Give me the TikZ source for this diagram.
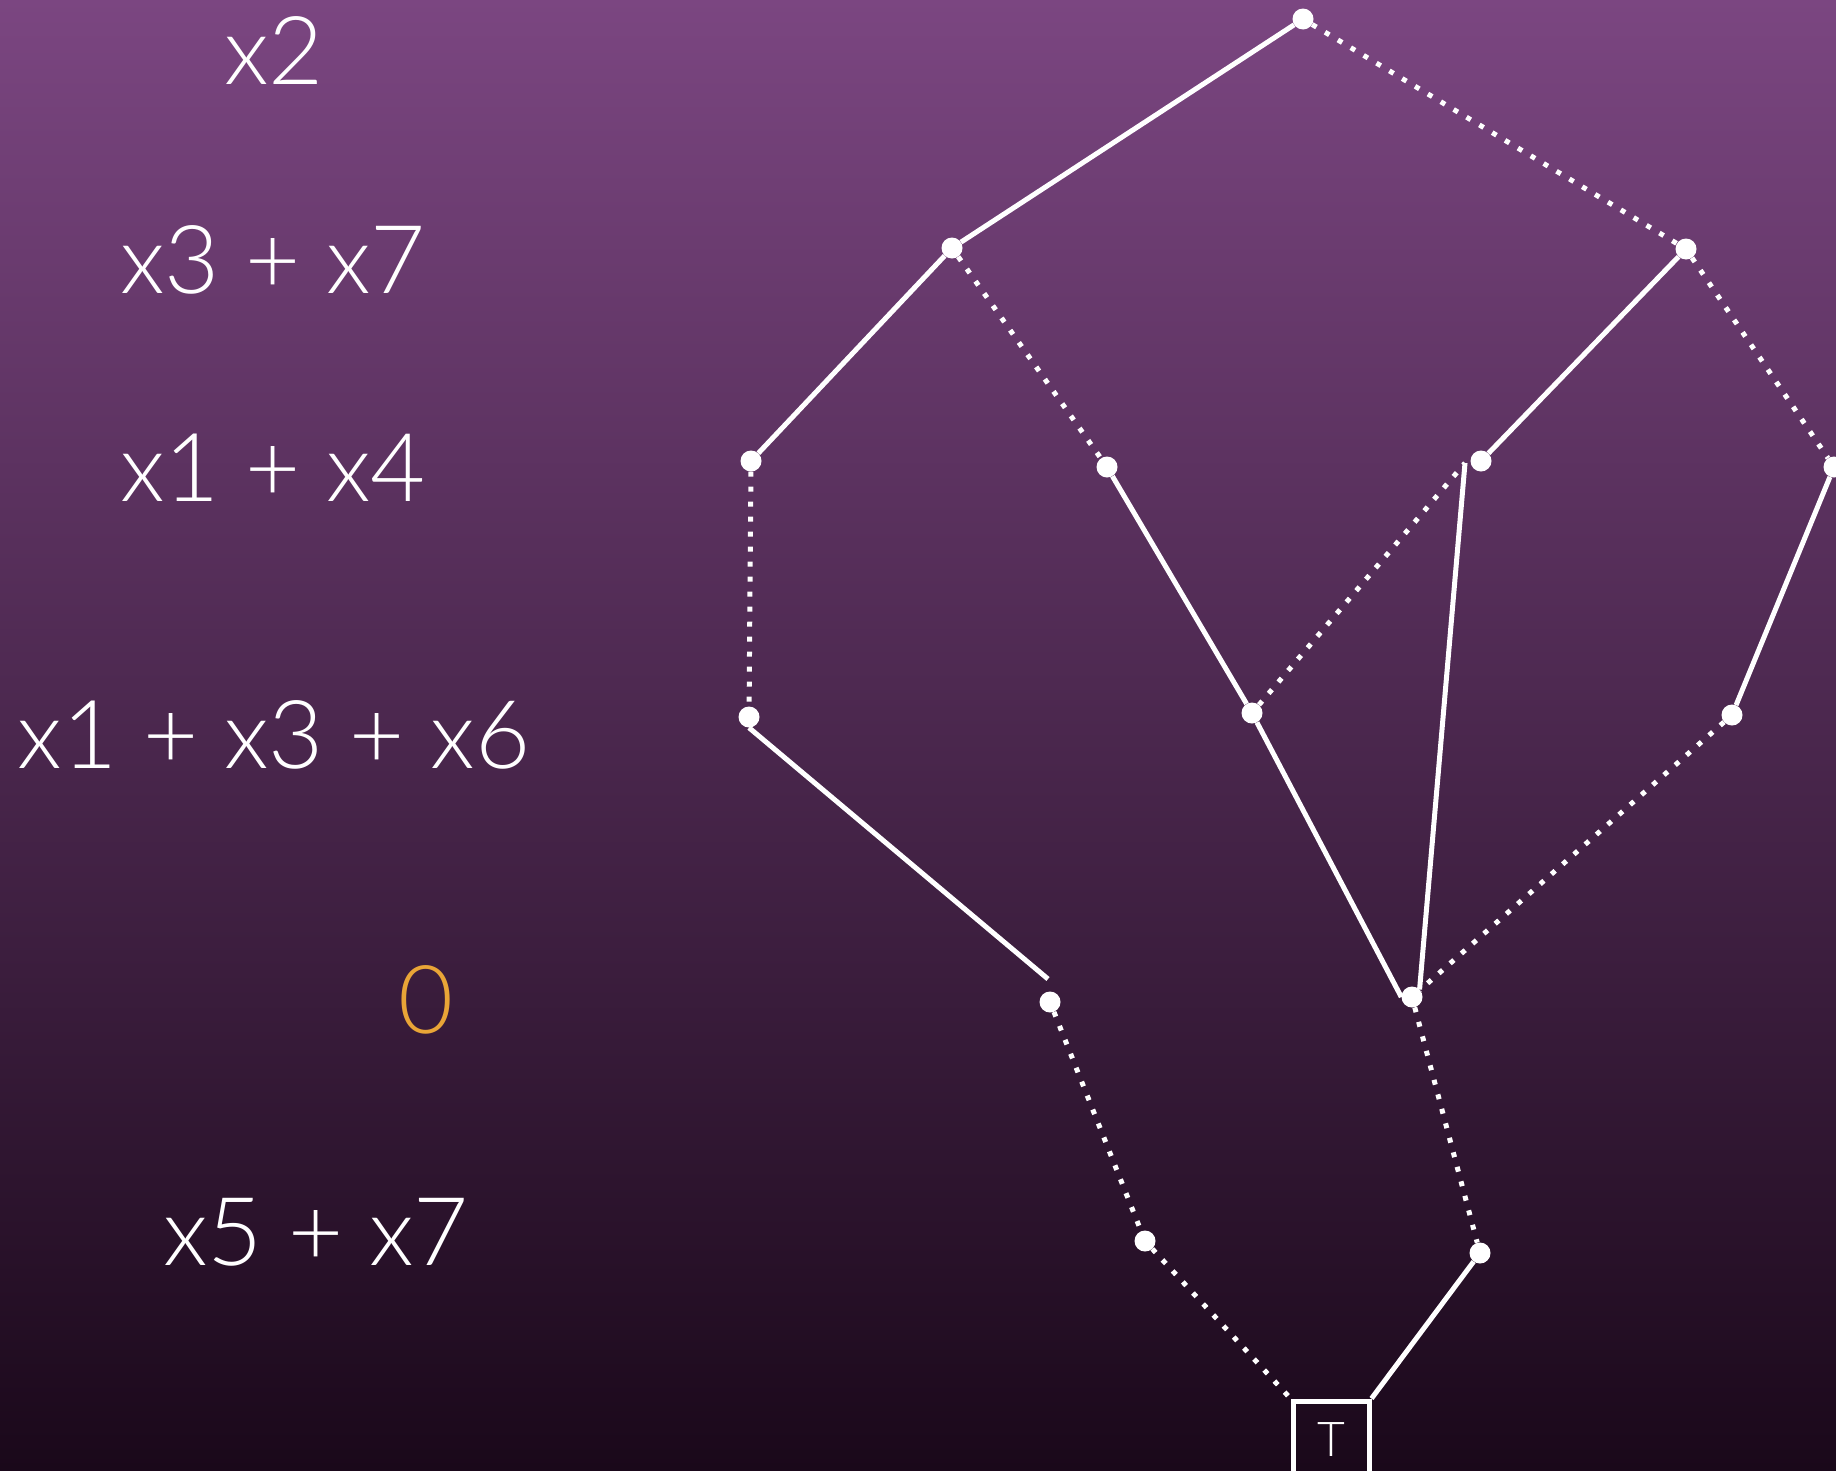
\documentclass[tikz,border=0pt]{standalone}
\usepackage{fontspec}
\setmainfont{Lato Light}
\definecolor{bgtop}{RGB}{123,70,129}
\definecolor{bgbot}{RGB}{26,8,26}
\definecolor{zeroorange}{RGB}{233,165,55}
\begin{document}
\begin{tikzpicture}[x=1pt,y=-1pt,
  dot/.style={circle,fill=white,inner sep=0pt,minimum size=21pt},
  solidedge/.style={draw=white,line width=5pt},
  dotedge/.style={draw=white,line width=5pt,dash pattern=on 5pt off 10pt},
  lbl/.style={text=white,font=\fontsize{95}{100}\selectfont,inner sep=0pt,anchor=base},
  termbox/.style={draw=white,line width=5pt,minimum size=76pt,inner sep=0pt,
    text=white,font=\fontsize{48}{50}\selectfont}]
\fill[top color=bgtop,bottom color=bgbot] (0,0) rectangle (1836,1470);
\useasboundingbox (0,0) rectangle (1836,1470);
% labels
\node[lbl] (l1) at (274,84) {x2};
\node[lbl] (l2) at (273,293) {x3 + x7};
\node[lbl] (l3) at (273,501) {x1 + x4};
\node[lbl] (l4) at (274,768) {x1 + x3 + x6};
\node[lbl,text=zeroorange] (l5) at (426,1033) {0};
\node[lbl] (l6) at (316,1265) {x5 + x7};
% nodes
\node[dot] (A) at (1303,19) {};
\node[dot] (B) at (952,248) {};
\node[dot] (C) at (1686,249) {};
\node[dot] (D) at (751,461) {};
\node[dot] (E) at (1107,467) {};
\node[dot] (F) at (1481,461) {};
\node[dot] (G) at (1834,467) {};
\node[dot] (H) at (749,717) {};
\node[dot] (I) at (1252,713) {};
\node[dot] (J) at (1732,715) {};
\node[dot] (K) at (1050,1002) {};
\node[dot] (L) at (1412,997) {};
\node[dot] (M) at (1145,1241) {};
\node[dot] (N) at (1480,1253) {};
\node[termbox] (T) at (1331,1439) {T};
\coordinate (Kt) at (1048,979);
\coordinate (Fw) at (1465,463);
% edges
\draw[solidedge] (A) -- (B);
\draw[dotedge] (A) -- (C);
\draw[solidedge] (B) -- (D);
\draw[dotedge] (B) -- (E);
\draw[solidedge] (C) -- (F);
\draw[dotedge] (C) -- (G);
\draw[dotedge] (D) -- (H);
\draw[solidedge] (E) -- (I);
\draw[dotedge] (I) -- (Fw);
\draw[solidedge] (L.north east) -- (Fw);
\draw[solidedge] (G) -- (J);
\draw[solidedge] (H.south) -- (Kt);
\draw[solidedge] (I) -- (L.west);
\draw[dotedge] (J) -- (L);
\draw[dotedge] (K) -- (M);
\draw[dotedge] (L) -- (N);
\draw[dotedge] (M) -- (T.north west);
\draw[solidedge] (N) -- (T.north east);
\end{tikzpicture}
\end{document}
